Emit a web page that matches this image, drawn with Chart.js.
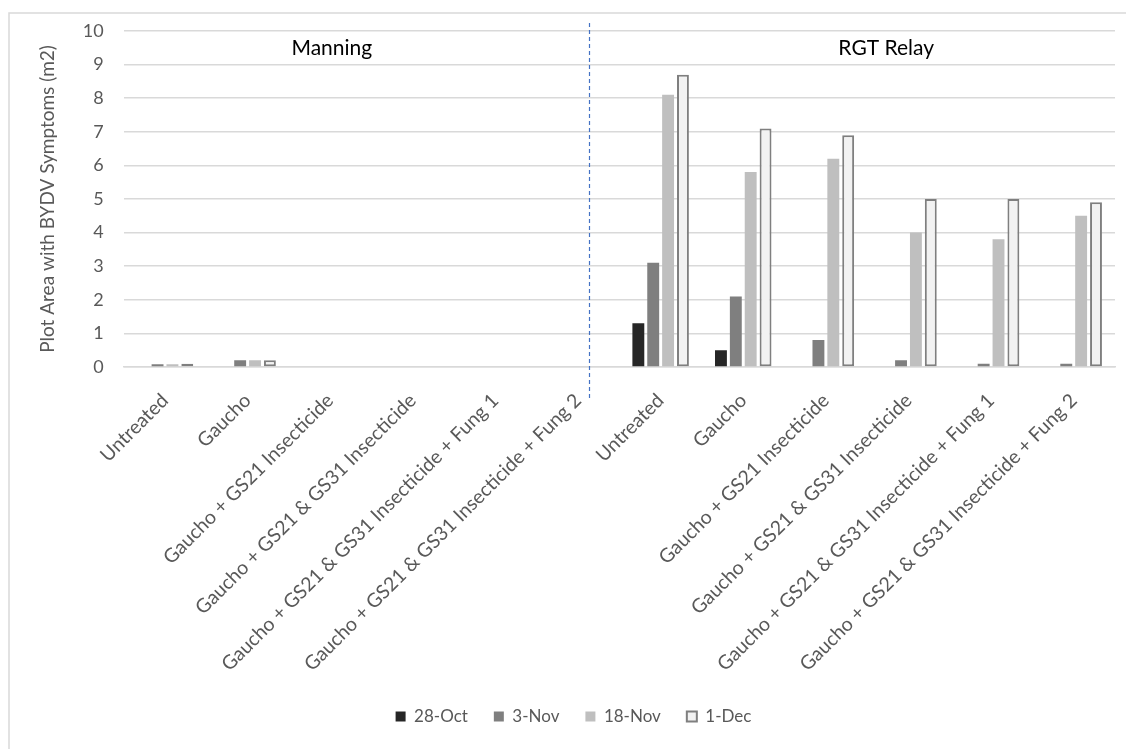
<!DOCTYPE html>
<html>
<head>
<meta charset="utf-8">
<script src="https://cdn.jsdelivr.net/npm/chart.js@4"></script>
<style>
  html, body { margin: 0; padding: 0; background: #ffffff; }
  #wrap { width: 1126px; height: 749px; position: relative; }
</style>
</head>
<body>
<div id="wrap"><canvas id="bydvChart"></canvas></div>
<script>
const treatments = [
    'Untreated', 'Gaucho', 'Gaucho + GS21 Insecticide', 'Gaucho + GS21 & GS31 Insecticide',
    'Gaucho + GS21 & GS31 Insecticide + Fung 1', 'Gaucho + GS21 & GS31 Insecticide + Fung 2',
    'Untreated', 'Gaucho', 'Gaucho + GS21 Insecticide', 'Gaucho + GS21 & GS31 Insecticide',
    'Gaucho + GS21 & GS31 Insecticide + Fung 1', 'Gaucho + GS21 & GS31 Insecticide + Fung 2'
];
const dates = ['28-Oct', '3-Nov', '18-Nov', '1-Dec'];
const oct28 = [0, 0, 0, 0, 0, 0, 1.3, 0.5, 0, 0, 0, 0];
const nov3 = [0.08, 0.2, 0, 0, 0, 0, 3.1, 2.1, 0.8, 0.2, 0.1, 0.1];
const nov18 = [0.08, 0.2, 0, 0, 0, 0, 8.1, 5.8, 6.2, 4.0, 3.8, 4.5];
const dec1 = [0.1, 0.2, 0, 0, 0, 0, 8.7, 7.1, 6.9, 5.0, 5.0, 4.9];
const yTicks = [0, 1, 2, 3, 4, 5, 6, 7, 8, 9, 10];
const varieties = ['Manning', 'RGT Relay'];

const grey = '#595959';

// frame, divider and variety headings
const decorPlugin = {
    id: 'decor',
    beforeDraw(chart) {
        const ctx = chart.ctx;
        ctx.save();
        ctx.fillStyle = '#ffffff';
        ctx.fillRect(0, 0, chart.width, chart.height);
        ctx.strokeStyle = '#d9d9d9';
        ctx.lineWidth = 1.5;
        ctx.strokeRect(9, 13, chart.width + 20, chart.height + 20);
        ctx.restore();
    },
    afterDatasetsDraw(chart) {
        const ctx = chart.ctx;
        const x = chart.scales.x;
        const area = chart.chartArea;
        ctx.save();
        const dx = Math.round(x.getPixelForValue(5.13)) + 0.5;
        ctx.strokeStyle = '#4472c4';
        ctx.lineWidth = 1.2;
        ctx.setLineDash([4, 3]);
        ctx.beginPath();
        ctx.moveTo(dx, area.top - 8);
        ctx.lineTo(dx, area.bottom + 34);
        ctx.stroke();
        ctx.setLineDash([]);
        ctx.fillStyle = '#000000';
        ctx.font = '21px Lato';
        ctx.textAlign = 'center';
        ctx.textBaseline = 'middle';
        ctx.fillText(varieties[0], x.getPixelForValue(2.02), area.top + 17);
        ctx.fillText(varieties[1], x.getPixelForValue(8.73), area.top + 17);
        ctx.restore();
    }
};

const ctx = document.getElementById('bydvChart').getContext('2d');
new Chart(ctx, {
    type: 'bar',
    data: {
        labels: treatments,
        datasets: [{
            label: dates[0],
            data: oct28,
            backgroundColor: '#262626'
        }, {
            label: dates[1],
            data: nov3,
            backgroundColor: '#7f7f7f'
        }, {
            label: dates[2],
            data: nov18,
            backgroundColor: '#bfbfbf'
        }, {
            label: dates[3],
            data: dec1,
            backgroundColor: '#f2f2f2',
            borderColor: '#7f7f7f',
            borderWidth: 2,
            borderSkipped: false
        }]
    },
    options: {
        responsive: true,
        maintainAspectRatio: false,
        animation: false,
        categoryPercentage: 0.72,
        barPercentage: 0.8,
        layout: {
            padding: { top: 31, right: 11, bottom: 14, left: 32 }
        },
        plugins: {
            legend: {
                position: 'bottom',
                labels: {
                    boxWidth: 10,
                    boxHeight: 10,
                    padding: 26,
                    color: grey,
                    font: { family: 'Lato', size: 17 }
                }
            },
            tooltip: { enabled: false }
        },
        scales: {
            x: {
                afterFit(axis) {
                    axis.height = 315;
                },
                grid: { display: false },
                border: { color: '#d9d9d9', width: 1.5 },
                ticks: {
                    color: grey,
                    font: { family: 'Lato', size: 19.5 },
                    minRotation: 45,
                    maxRotation: 45,
                    autoSkip: false,
                    padding: 14
                }
            },
            y: {
                min: 0,
                max: 10,
                afterBuildTicks(axis) {
                    axis.ticks = yTicks.map(v => ({ value: v }));
                },
                grid: { color: '#d9d9d9', lineWidth: 1.5, drawTicks: false },
                border: { display: false },
                ticks: {
                    color: grey,
                    font: { family: 'Lato', size: 18 },
                    padding: 20
                },
                title: {
                    display: true,
                    text: 'Plot Area with BYDV Symptoms (m2)',
                    color: grey,
                    font: { family: 'Lato', size: 19 },
                    padding: 4
                }
            }
        }
    },
    plugins: [decorPlugin]
});
</script>
</body>
</html>
